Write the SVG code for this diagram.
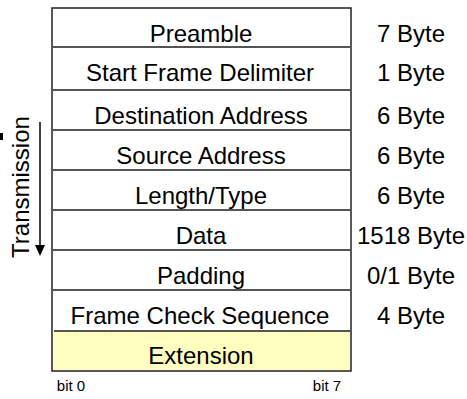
<svg xmlns="http://www.w3.org/2000/svg" width="467" height="399" viewBox="0 0 467 399">
<style>
text{font-family:"Liberation Sans",Arial,sans-serif;fill:#000}
.t{font-size:24px;text-anchor:middle}
.b{font-size:15px;text-anchor:middle}
.sep{stroke:#555;stroke-width:2}
</style>
<rect x="0" y="133" width="3" height="7" fill="#000"/>
<g id="frame">
<rect x="52" y="8" width="299" height="363" fill="#fff" stroke="#222" stroke-width="1.5"/>
<rect x="53" y="331" width="297" height="39" fill="#ffffc0"/>
</g>
<g id="connectors">
<line class="sep" x1="53" y1="47" x2="350" y2="47"/>
<line class="sep" x1="53" y1="90" x2="350" y2="90"/>
<line class="sep" x1="53" y1="130" x2="350" y2="130"/>
<line class="sep" x1="53" y1="170" x2="350" y2="170"/>
<line class="sep" x1="53" y1="210" x2="350" y2="210"/>
<line class="sep" x1="53" y1="250" x2="350" y2="250"/>
<line class="sep" x1="53" y1="290" x2="350" y2="290"/>
<line class="sep" x1="54" y1="331" x2="350" y2="331" stroke="#666" stroke-width="2.5"/>
<line x1="40" y1="122" x2="40" y2="245" stroke="#000" stroke-width="1.5"/>
<path d="M35,245 L45,245 L40,256 Z" fill="#000"/>
</g>
<g id="preamble"><text class="t" x="201" y="42">Preamble</text><text class="t" x="411" y="42">7 Byte</text></g>
<g id="sfd"><text class="t" x="200" y="81">Start Frame Delimiter</text><text class="t" x="411" y="81">1 Byte</text></g>
<g id="dst"><text class="t" x="201" y="124">Destination Address</text><text class="t" x="411" y="124">6 Byte</text></g>
<g id="src"><text class="t" x="201" y="164">Source Address</text><text class="t" x="411" y="164">6 Byte</text></g>
<g id="lentype"><text class="t" x="201" y="204">Length/Type</text><text class="t" x="411" y="204">6 Byte</text></g>
<g id="data"><text class="t" x="201" y="244">Data</text><text class="t" x="411" y="244">1518 Byte</text></g>
<g id="padding"><text class="t" x="201" y="284">Padding</text><text class="t" x="411" y="284">0/1 Byte</text></g>
<g id="fcs"><text class="t" x="200" y="324">Frame Check Sequence</text><text class="t" x="411" y="324">4 Byte</text></g>
<g id="extension"><text class="t" x="201" y="364">Extension</text></g>
<g id="transmission"><text class="t" transform="translate(29,187) rotate(-90)">Transmission</text></g>
<g id="bits"><text class="b" x="71" y="391">bit 0</text><text class="b" x="327" y="391">bit 7</text></g>
</svg>
